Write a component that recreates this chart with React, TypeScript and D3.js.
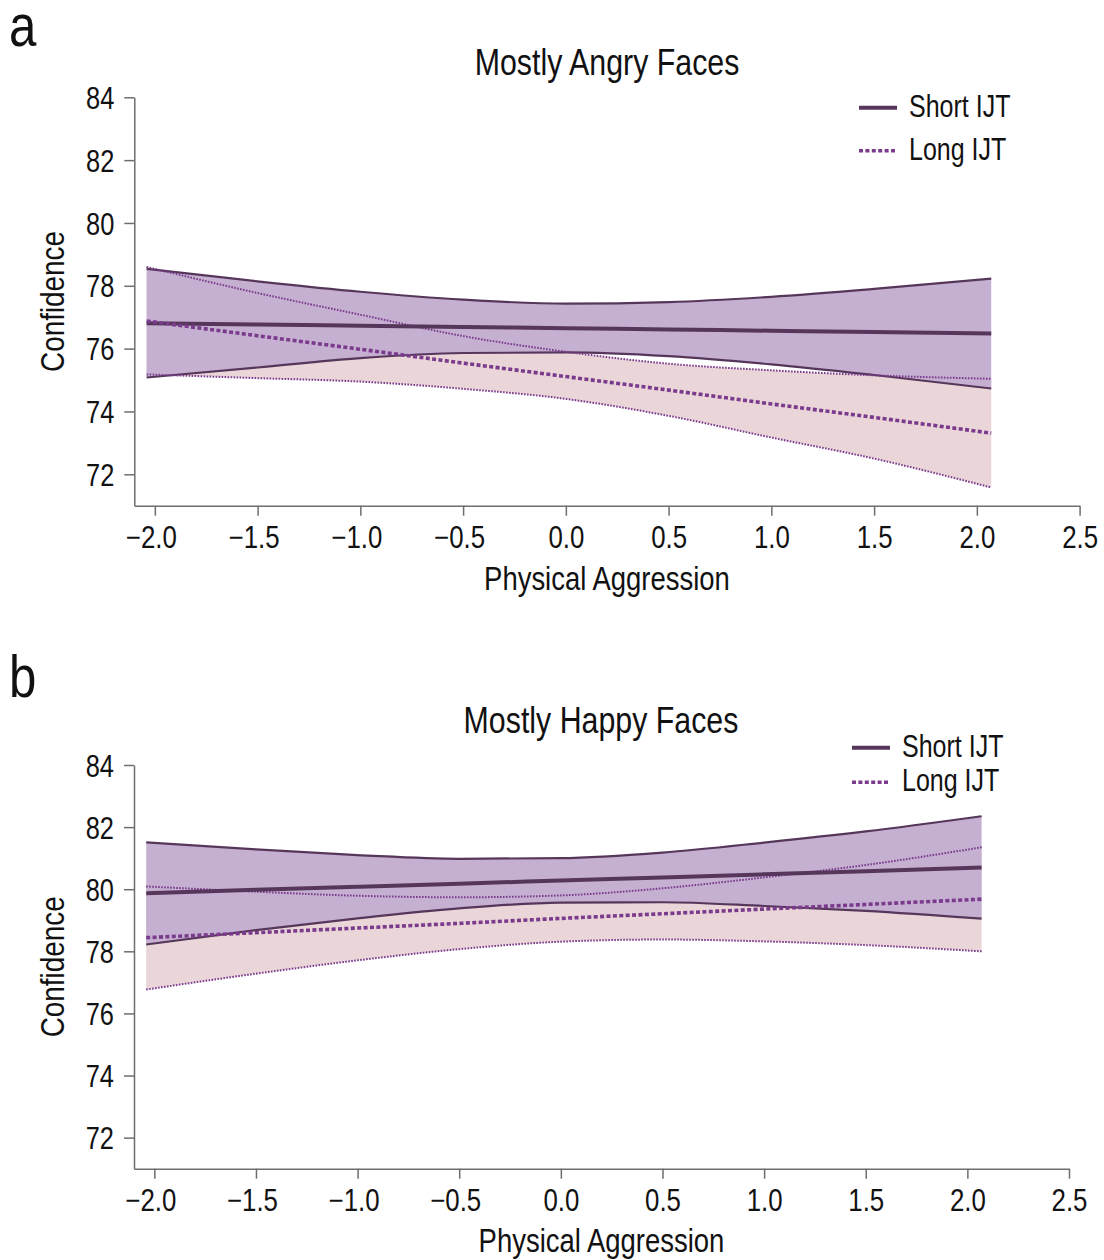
import React, { useEffect, useRef } from "react";
import * as d3 from "d3";

// x positions (Physical Aggression) where the curves were read
const xValues = [-2.04, -1.5, -1.0, -0.5, 0, 0.5, 1.0, 1.5, 2.07];
const xTicks = [-2.0, -1.5, -1.0, -0.5, 0.0, 0.5, 1.0, 1.5, 2.0, 2.5];
const yTicks = [72, 74, 76, 78, 80, 82, 84];
const seriesNames = ["Short IJT", "Long IJT"];

// a: Mostly Angry Faces
const angryShortMean = [76.81, 76.77, 76.73, 76.69, 76.65, 76.61, 76.57, 76.53, 76.48];
const angryShortUpper = [78.54, 78.14, 77.81, 77.56, 77.43, 77.48, 77.65, 77.9, 78.23];
const angryShortLower = [75.08, 75.4, 75.7, 75.86, 75.88, 75.76, 75.5, 75.16, 74.73];
const angryLongMean = [76.88, 76.41, 75.98, 75.54, 75.11, 74.68, 74.24, 73.81, 73.31];
const angryLongUpper = [78.6, 77.77, 77.08, 76.4, 75.9, 75.52, 75.31, 75.15, 75.04];
const angryLongLower = [75.18, 75.06, 74.95, 74.72, 74.4, 73.86, 73.17, 72.5, 71.58];

// b: Mostly Happy Faces
const happyShortMean = [79.87, 79.98, 80.08, 80.18, 80.28, 80.38, 80.48, 80.58, 80.7];
const happyShortUpper = [81.51, 81.28, 81.1, 80.98, 81.0, 81.18, 81.5, 81.86, 82.35];
const happyShortLower = [78.22, 78.68, 79.06, 79.38, 79.57, 79.58, 79.46, 79.3, 79.05];
const happyLongMean = [78.44, 78.6, 78.75, 78.9, 79.06, 79.21, 79.36, 79.51, 79.68];
const happyLongUpper = [80.09, 79.92, 79.79, 79.74, 79.8, 80.03, 80.38, 80.78, 81.35];
const happyLongLower = [76.77, 77.28, 77.71, 78.07, 78.31, 78.38, 78.32, 78.2, 78.0];

// no narrow font installed, so Liberation Sans is squeezed horizontally
const FONT = '"Liberation Sans", Arial, sans-serif';
const SQUEEZE = 0.82;
const SOLID = "#56375b";
const DOTTED = "#7a3b8d";
const PURPLE_FILL = "#c6b0d2";
const PINK_FILL = "#ead6d9";
const AXIS = "#6e6e6e";

function NarrowText({ x, y, size, anchor = "start", rotate = 0, children }: any) {
  return (
    <g transform={`translate(${x},${y}) rotate(${rotate}) scale(${SQUEEZE},1)`}>
      <text textAnchor={anchor} style={{ fontFamily: FONT, fontSize: size }} fill="#111">{children}</text>
    </g>
  );
}

type PanelProps = {
  letter: string;
  title: string;
  shortMean: number[];
  shortUpper: number[];
  shortLower: number[];
  longMean: number[];
  longUpper: number[];
  longLower: number[];
  left: number;
  right: number;
  top: number;
  bottom: number;
  titleX: number;
  titleY: number;
  letterY: number;
  xLabelY: number;
  legendX: number;
  legendY: number;
  legendGap: number;
};

function Panel(props: PanelProps) {
  const {
    letter, title, shortMean, shortUpper, shortLower, longMean, longUpper, longLower,
    left, right, top, bottom, titleX, titleY, letterY, xLabelY, legendX, legendY, legendGap,
  } = props;
  const xAxisRef = useRef<SVGGElement>(null);
  const yAxisRef = useRef<SVGGElement>(null);

  const x = d3.scaleLinear().domain([-2.1, 2.5]).range([left, right]);
  const y = d3.scaleLinear().domain([71, 84]).range([bottom, top]);

  useEffect(() => {
    const xAxis = d3.axisBottom(x).tickValues(xTicks).tickFormat(d3.format(".1f")).tickSize(10).tickSizeOuter(0);
    const yAxis = d3.axisLeft(y).tickValues(yTicks).tickSize(10).tickSizeOuter(0);

    const gx = d3.select(xAxisRef.current);
    gx.selectAll("*").remove();
    gx.call(xAxis as any);
    gx.select(".domain").attr("stroke", AXIS).attr("stroke-width", 1.5);
    gx.selectAll(".tick line").attr("stroke", AXIS).attr("stroke-width", 1.5);
    gx.selectAll(".tick text")
      .attr("x", (d: any) => (d < 0 ? -4 : 0) / SQUEEZE)
      .attr("y", 42).attr("dy", 0)
      .attr("transform", `scale(${SQUEEZE},1)`)
      .attr("fill", "#111").style("font-size", "31.5px").style("font-family", FONT);

    const gy = d3.select(yAxisRef.current);
    gy.selectAll("*").remove();
    gy.call(yAxis as any);
    gy.select(".domain").attr("stroke", AXIS).attr("stroke-width", 1.5);
    gy.selectAll(".tick line").attr("stroke", AXIS).attr("stroke-width", 1.5);
    gy.selectAll(".tick text")
      .attr("x", -20 / SQUEEZE).attr("dy", "0.36em")
      .attr("transform", `scale(${SQUEEZE},1)`)
      .attr("fill", "#111").style("font-size", "31px").style("font-family", FONT);
  });

  const band = (lo: number[], hi: number[]) =>
    d3.area<number>()
      .x((_, i) => x(xValues[i]))
      .y0((_, i) => y(lo[i]))
      .y1((d) => y(d))
      .curve(d3.curveMonotoneX)(hi) || "";
  const line = (vals: number[]) =>
    d3.line<number>()
      .x((_, i) => x(xValues[i]))
      .y((d) => y(d))
      .curve(d3.curveMonotoneX)(vals) || "";

  const midX = (left + right) / 2;

  return (
    <g>
      <NarrowText x={9} y={letterY} size={60}>{letter}</NarrowText>
      <NarrowText x={titleX} y={titleY} size={37} anchor="middle">{title}</NarrowText>

      <path d={band(longLower, longUpper)} fill={PINK_FILL} />
      <path d={band(shortLower, shortUpper)} fill={PURPLE_FILL} />

      <path d={line(shortUpper)} fill="none" stroke={SOLID} strokeWidth={2.2} />
      <path d={line(shortLower)} fill="none" stroke={SOLID} strokeWidth={2.2} />
      <path d={line(longUpper)} fill="none" stroke={DOTTED} strokeWidth={2} strokeDasharray="1.6 1.4" />
      <path d={line(longLower)} fill="none" stroke={DOTTED} strokeWidth={2} strokeDasharray="1.6 1.4" />
      <path d={line(shortMean)} fill="none" stroke={SOLID} strokeWidth={4} />
      <path d={line(longMean)} fill="none" stroke={DOTTED} strokeWidth={3.6} strokeDasharray="4 2.4" />

      <g ref={xAxisRef} transform={`translate(0,${bottom})`} />
      <g ref={yAxisRef} transform={`translate(${left},0)`} />

      <NarrowText x={midX} y={xLabelY} size={33.5} anchor="middle">Physical Aggression</NarrowText>
      <NarrowText x={64} y={(top + bottom) / 2} size={34} anchor="middle" rotate={-90}>Confidence</NarrowText>

      {seriesNames.map((name, i) => (
        <g key={name} transform={`translate(${legendX},${legendY + i * legendGap})`}>
          <line x1={0} x2={38} y1={0} y2={0}
            stroke={i === 0 ? SOLID : DOTTED}
            strokeWidth={i === 0 ? 4 : 3.6}
            strokeDasharray={i === 0 ? undefined : "4 2.4"} />
          <NarrowText x={50} y={9} size={30.5}>{name}</NarrowText>
        </g>
      ))}
    </g>
  );
}

export default function App() {
  return (
    <svg width={1104} height={1260} style={{ position: "absolute", left: 0, top: 0, background: "#fff" }}>
      <Panel
        letter="a" title="Mostly Angry Faces"
        shortMean={angryShortMean} shortUpper={angryShortUpper} shortLower={angryShortLower}
        longMean={angryLongMean} longUpper={angryLongUpper} longLower={angryLongLower}
        left={134.3} right={1079.6} top={97.3} bottom={505.7}
        titleX={607} titleY={75} letterY={46} xLabelY={590}
        legendX={859} legendY={107.7} legendGap={43}
      />
      <Panel
        letter="b" title="Mostly Happy Faces"
        shortMean={happyShortMean} shortUpper={happyShortUpper} shortLower={happyShortLower}
        longMean={happyLongMean} longUpper={happyLongUpper} longLower={happyLongLower}
        left={134} right={1069} top={765} bottom={1168.7}
        titleX={601} titleY={733} letterY={697} xLabelY={1252}
        legendX={852} legendY={747.7} legendGap={34.6}
      />
    </svg>
  );
}
